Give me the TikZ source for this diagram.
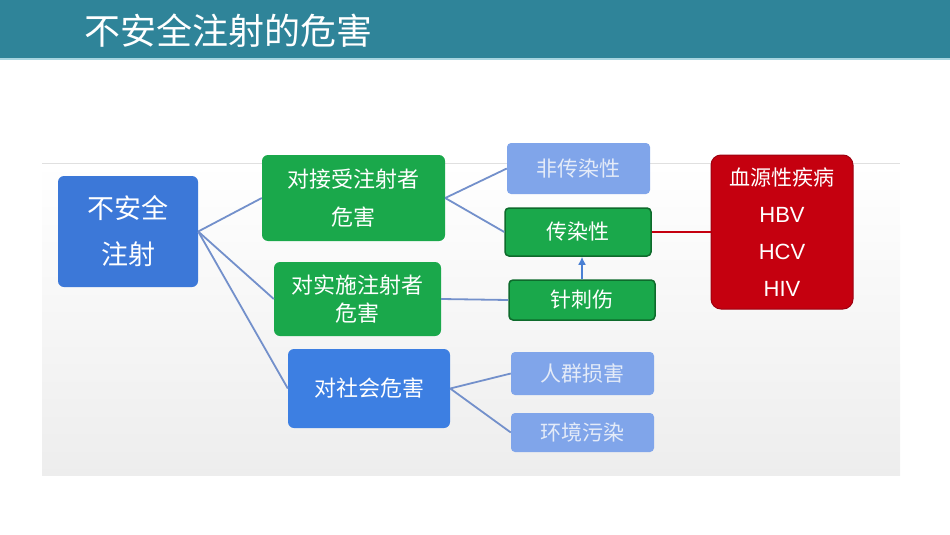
\documentclass[tikz,border=0pt]{standalone}
\usepackage{fontspec}
\setmainfont{Liberation Sans}
\newfontfamily\cjk{Noto Sans CJK SC}
\usetikzlibrary{arrows.meta}
\definecolor{titlebg}{HTML}{2F8499}
\definecolor{titleline}{HTML}{A8D5E0}
\definecolor{mainblue}{HTML}{3C78D8}
\definecolor{socblue}{HTML}{3D7FE2}
\definecolor{mgreen}{HTML}{1AA84B}
\definecolor{dgreen}{HTML}{0E6B2C}
\definecolor{lblue}{HTML}{80A5EA}
\definecolor{ltext}{HTML}{E4EBF8}
\definecolor{mred}{HTML}{C5000F}
\definecolor{dred}{HTML}{9E0010}
\definecolor{linec}{HTML}{7390CB}
\definecolor{arrowc}{HTML}{4A80D4}
\begin{document}
\begin{tikzpicture}[x=1pt,y=-1pt,
  box/.style={rounded corners=6pt, align=center, text=white, inner sep=0pt,
    font=\cjk\fontsize{22}{28}\selectfont},
  conn/.style={draw=linec, line width=1.8pt}]
\useasboundingbox (0,0) rectangle (950,535);
% title bar
\fill[titlebg] (0,0) rectangle (950,58);
\draw[titleline, line width=1.5pt] (0,59) -- (950,59);
\node[anchor=west, text=white, inner sep=0pt, font=\cjk\fontsize{36}{40}\selectfont] (title) at (84,31) {不安全注射的危害};
% picture background
\shade[top color=white, bottom color=black!7] (42,163) rectangle (900,475);
\draw[black!12, line width=1pt] (42,163) -- (900,163);
% nodes
\node[box, fill=mainblue, minimum width=140pt, minimum height=111pt,
  font=\cjk\fontsize{27}{46}\selectfont] (root) at (128,231.5) {不安全\\注射};
\node[box, fill=mgreen, minimum width=183pt, minimum height=86pt,
  font=\cjk\fontsize{22}{38}\selectfont] (recv) at (353.5,198) {对接受注射者\\危害};
\node[box, fill=mgreen, minimum width=167pt, minimum height=74pt] (admin) at (357.5,299) {对实施注射者\\危害};
\node[box, fill=socblue, minimum width=162pt, minimum height=79pt] (soc) at (369,388.5) {对社会危害};
\node[box, fill=lblue, text=ltext, minimum width=143pt, minimum height=51pt, rounded corners=4pt,
  font=\cjk\fontsize{21}{26}\selectfont] (nonin) at (578.5,168.5) {非传染性};
\node[box, fill=mgreen, draw=dgreen, line width=1.5pt, minimum width=146pt, minimum height=48pt, rounded corners=4pt,
  font=\cjk\fontsize{21}{26}\selectfont] (infect) at (578,232) {传染性};
\node[box, fill=mgreen, draw=dgreen, line width=1.5pt, minimum width=146pt, minimum height=40pt, rounded corners=4pt,
  font=\cjk\fontsize{21}{26}\selectfont] (needle) at (582,300) {针刺伤};
\node[box, fill=lblue, text=ltext, minimum width=143pt, minimum height=43pt, rounded corners=4pt,
  font=\cjk\fontsize{21}{26}\selectfont] (crowd) at (582.5,373.5) {人群损害};
\node[box, fill=lblue, text=ltext, minimum width=143pt, minimum height=39pt, rounded corners=4pt,
  font=\cjk\fontsize{21}{26}\selectfont] (env) at (582.5,432.5) {环境污染};
\node[box, fill=mred, draw=dred, line width=1pt, minimum width=142pt, minimum height=154pt, rounded corners=10pt,
  font=\fontsize{22}{37}\selectfont] (blood) at (782,232) {{\cjk\fontsize{21}{37}\selectfont 血源性疾病}\\HBV\\HCV\\HIV};
% connectors
\draw[conn] (root.east) -- (recv.west);
\draw[conn] (root.east) -- (admin.west);
\draw[conn] (root.east) -- (soc.west);
\draw[conn] (recv.east) -- (nonin.west);
\draw[conn] (recv.east) -- (infect.west);
\draw[conn] (admin.east) -- (needle.west);
\draw[conn] (soc.east) -- (crowd.west);
\draw[conn] (soc.east) -- (env.west);
\draw[draw=arrowc, line width=2.5pt, -{Latex[length=8pt,width=8pt]}] (needle.north) -- (needle.north |- infect.south);
\draw[draw=mred, line width=2pt] (infect.east) -- (blood.west);
\end{tikzpicture}
\end{document}
